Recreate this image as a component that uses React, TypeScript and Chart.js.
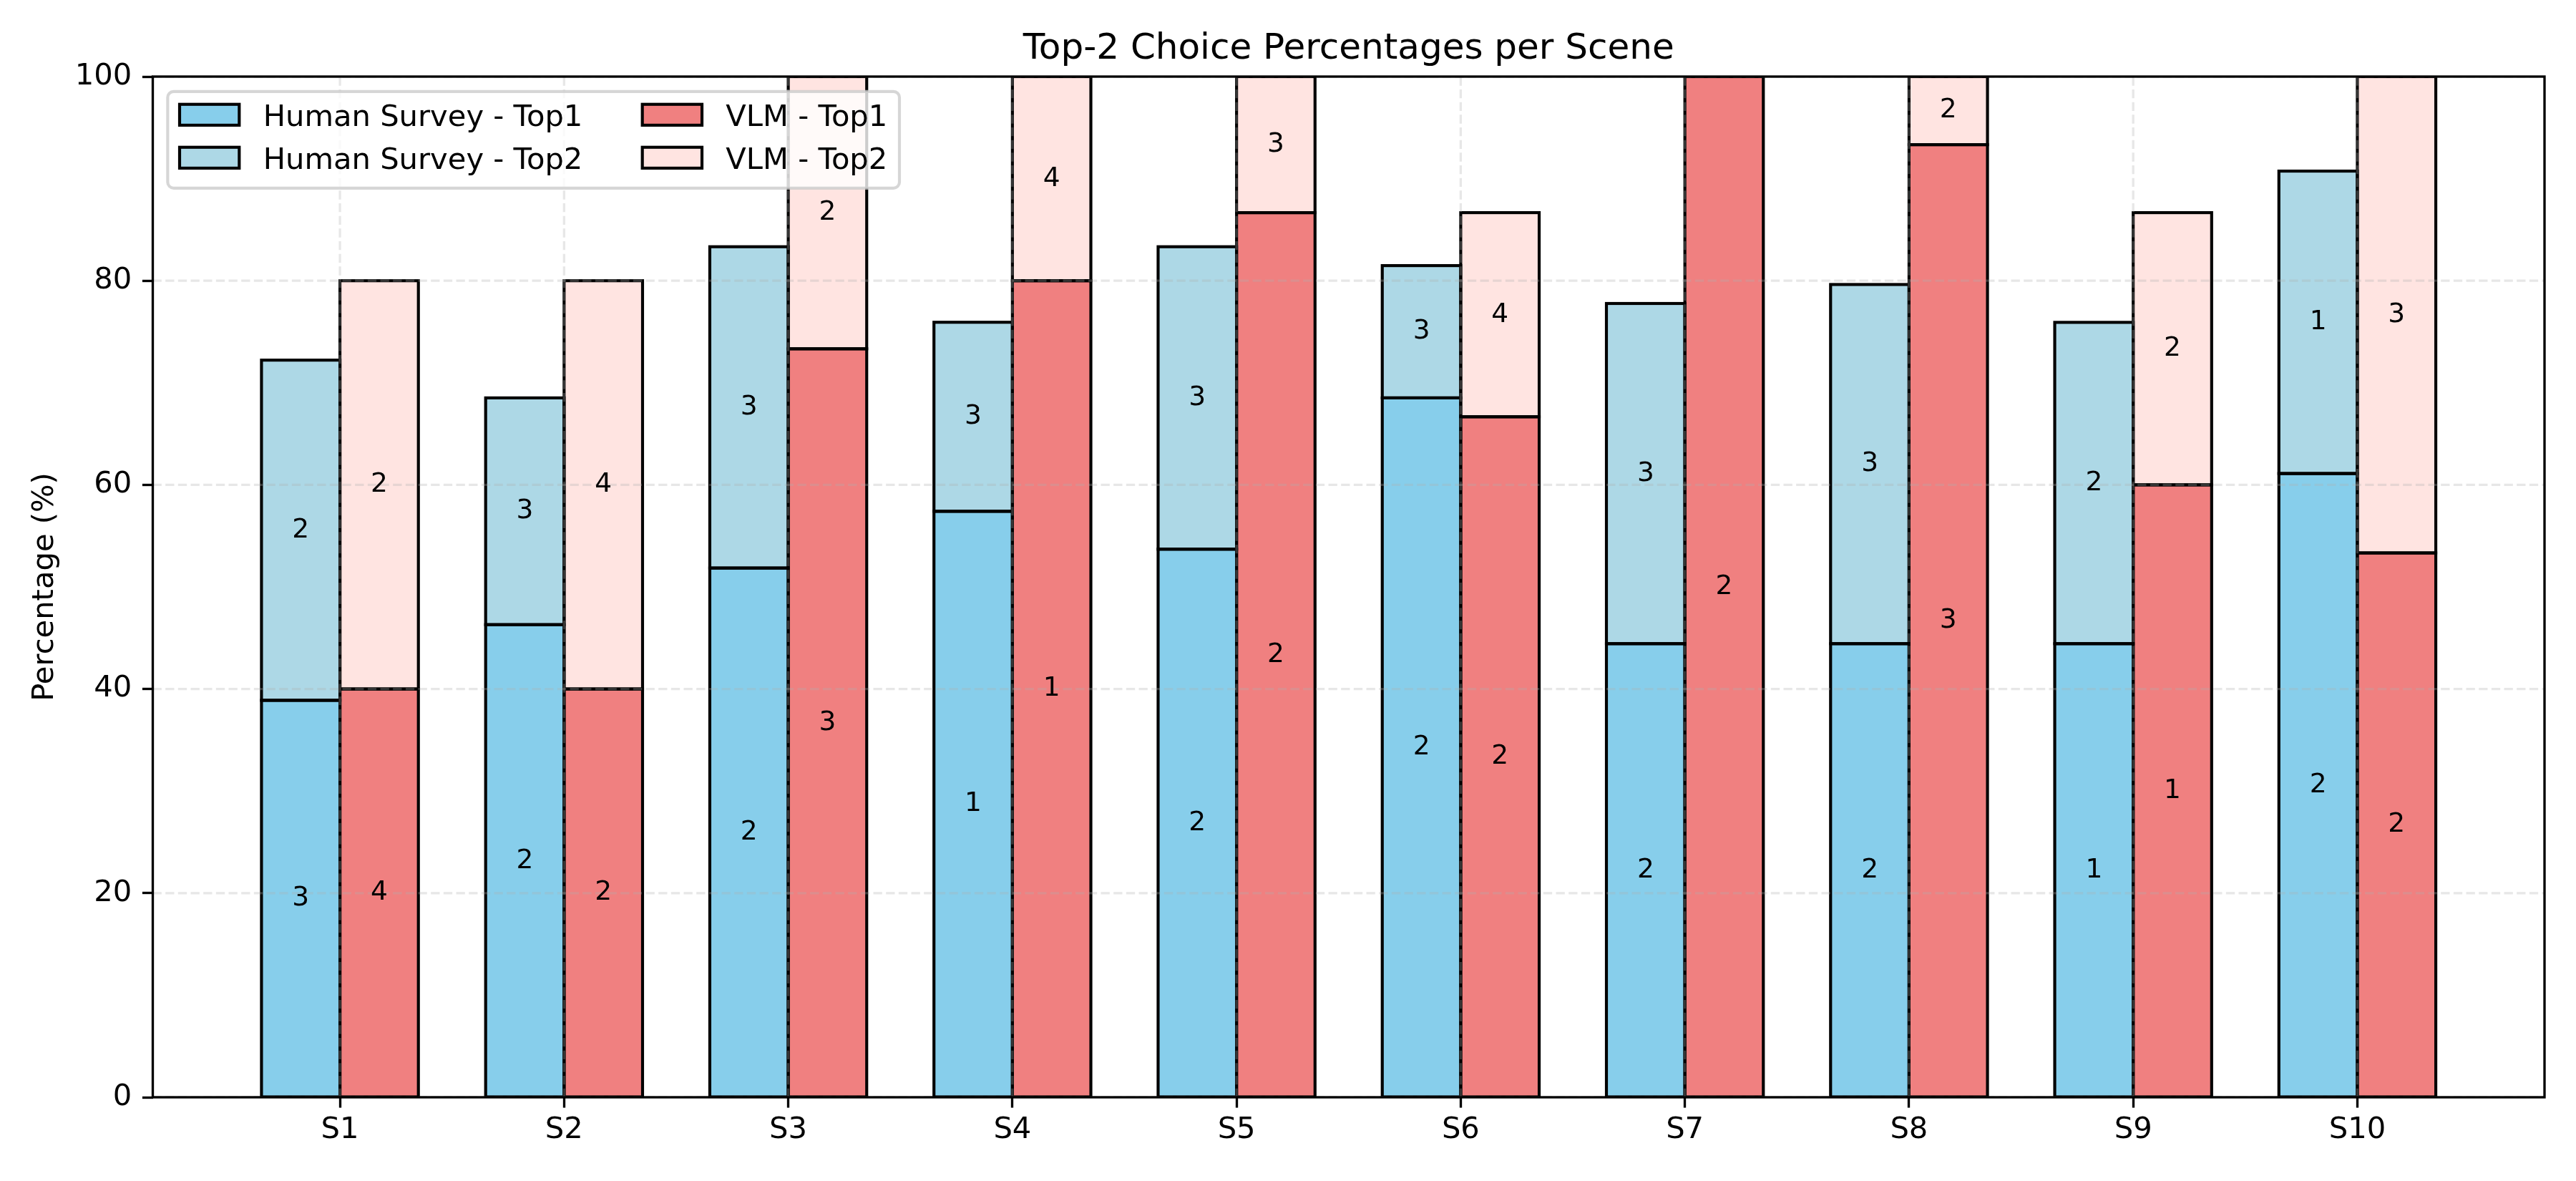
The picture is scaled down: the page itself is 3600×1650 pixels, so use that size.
import React, { useEffect, useRef } from 'react';
import { Chart, registerables } from 'chart.js';

Chart.register(...registerables);

// ---------------- data ----------------
const scenes = ['S1', 'S2', 'S3', 'S4', 'S5', 'S6', 'S7', 'S8', 'S9', 'S10'];
const humanTop1 = [38.89, 46.3, 51.85, 57.41, 53.7, 68.52, 44.44, 44.44, 44.44, 61.11];
const humanTop2 = [33.33, 22.22, 31.48, 18.52, 29.63, 12.96, 33.33, 35.19, 31.48, 29.63];
const vlmTop1 = [40, 40, 73.33, 80, 86.67, 66.67, 100, 93.33, 60, 53.33];
const vlmTop2 = [40, 40, 26.67, 20, 13.33, 20, 0, 6.67, 26.67, 46.67];
const humanTop1Choice = ['3', '2', '2', '1', '2', '2', '2', '2', '1', '2'];
const humanTop2Choice = ['2', '3', '3', '3', '3', '3', '3', '3', '2', '1'];
const vlmTop1Choice = ['4', '2', '3', '1', '2', '2', '2', '3', '1', '2'];
const vlmTop2Choice = ['2', '4', '2', '4', '3', '4', '', '2', '2', '3'];
const yTicks = [0, 20, 40, 60, 80, 100];
const titleText = 'Top-2 Choice Percentages per Scene';
const yLabel = 'Percentage (%)';
const seriesNames = ['Human Survey - Top1', 'Human Survey - Top2', 'VLM - Top1', 'VLM - Top2'];
const seriesColors = ['#87CEEB', '#ADD8E6', '#F08080', '#FFE4E1'];

// ---------------- style ----------------
const W = 3600;
const H = 1650;
const PT = 300 / 72;
const FONT = '"DejaVu Sans", "Liberation Sans", sans-serif';
const FS = 10 * PT; // 41.67
const LABEL_FS = 9 * PT;
const TITLE_FS = 12 * PT;
const EDGE_W = 1 * PT;
const SPINE_W = 0.8 * PT;
const GRID_W = 0.8 * PT;
const GRID_DASH = [3.7 * GRID_W, 1.6 * GRID_W];
const GRID_COLOR = 'rgba(176,176,176,0.3)';
const TICK_LEN = 3.5 * PT;
const PLOT = { left: 213.5, top: 107, right: 3556, bottom: 1533 };

const overlayPlugin = {
  id: 'overlay',
  afterDatasetsDraw(chart: any) {
    const { ctx, chartArea: ca, scales } = chart;
    ctx.save();
    ctx.beginPath();
    ctx.rect(ca.left, ca.top, ca.right - ca.left, ca.bottom - ca.top);
    ctx.clip();
    // bar edges
    ctx.strokeStyle = '#000';
    ctx.lineWidth = EDGE_W;
    chart.data.datasets.forEach((ds: any, di: number) => {
      const meta = chart.getDatasetMeta(di);
      meta.data.forEach((el: any) => {
        const p = el.getProps(['x', 'y', 'base', 'width'], true);
        const top = Math.min(p.y, p.base);
        const h = Math.abs(p.base - p.y);
        ctx.strokeRect(p.x - p.width / 2, top, p.width, h);
      });
    });
    // grid over bars (matplotlib default zorder)
    ctx.strokeStyle = GRID_COLOR;
    ctx.lineWidth = GRID_W;
    ctx.setLineDash(GRID_DASH);
    scales.y.ticks.forEach((t: any) => {
      const py = scales.y.getPixelForValue(t.value);
      ctx.beginPath();
      ctx.moveTo(ca.left, py);
      ctx.lineTo(ca.right, py);
      ctx.stroke();
    });
    scales.x.ticks.forEach((t: any) => {
      const px = scales.x.getPixelForValue(t.value);
      ctx.beginPath();
      ctx.moveTo(px, ca.bottom);
      ctx.lineTo(px, ca.top);
      ctx.stroke();
    });
    ctx.restore();

    // segment labels
    ctx.save();
    ctx.fillStyle = '#000';
    ctx.font = `${LABEL_FS}px ${FONT}`;
    ctx.textAlign = 'center';
    ctx.textBaseline = 'alphabetic';
    chart.data.datasets.forEach((ds: any, di: number) => {
      const meta = chart.getDatasetMeta(di);
      meta.data.forEach((el: any, i: number) => {
        const txt = ds.choiceLabels[i];
        const p = el.getProps(['x', 'y', 'base'], true);
        if (!txt || Math.abs(p.base - p.y) < 0.5) return;
        const cy = (p.y + p.base) / 2;
        // matplotlib va=center: digit ink centre sits ~0.1em above the segment centre
        ctx.fillText(txt, p.x, cy - 0.1 * LABEL_FS + 0.3645 * LABEL_FS);
      });
    });
    ctx.restore();
  },
  afterDraw(chart: any) {
    const { ctx, chartArea: ca } = chart;
    // spines
    ctx.save();
    ctx.strokeStyle = '#000';
    ctx.lineWidth = SPINE_W;
    ctx.setLineDash([]);
    ctx.strokeRect(ca.left, ca.top, ca.right - ca.left, ca.bottom - ca.top);
    // title
    ctx.fillStyle = '#000';
    ctx.font = `${TITLE_FS}px ${FONT}`;
    ctx.textAlign = 'center';
    ctx.textBaseline = 'alphabetic';
    ctx.fillText(titleText, (ca.left + ca.right) / 2, ca.top - 6 * PT);

    // legend (upper left, 2 columns)
    ctx.font = `${FS}px ${FONT}`;
    const x0 = ca.left + 0.5 * FS;
    const y0 = ca.top + 0.5 * FS;
    const pad = 0.4 * FS;
    const hw = 2 * FS;
    const hh = 0.7 * FS;
    const htp = 0.8 * FS;
    const colSp = 2 * FS;
    const w1 = Math.max(ctx.measureText(seriesNames[0]).width, ctx.measureText(seriesNames[1]).width);
    const w2 = Math.max(ctx.measureText(seriesNames[2]).width, ctx.measureText(seriesNames[3]).width);
    const col1x = x0 + pad;
    const col2x = col1x + hw + htp + w1 + colSp;
    const boxW = col2x + hw + htp + w2 + pad - x0;
    const boxH = 135;
    const rows = [y0 + 32.5, y0 + 92.5];
    const r = 0.2 * FS;
    ctx.beginPath();
    ctx.moveTo(x0 + r, y0);
    ctx.arcTo(x0 + boxW, y0, x0 + boxW, y0 + boxH, r);
    ctx.arcTo(x0 + boxW, y0 + boxH, x0, y0 + boxH, r);
    ctx.arcTo(x0, y0 + boxH, x0, y0, r);
    ctx.arcTo(x0, y0, x0 + boxW, y0, r);
    ctx.closePath();
    ctx.fillStyle = 'rgba(255,255,255,0.8)';
    ctx.fill();
    ctx.strokeStyle = 'rgba(204,204,204,0.8)';
    ctx.lineWidth = EDGE_W;
    ctx.stroke();
    seriesNames.forEach((name, k) => {
      const cx = k < 2 ? col1x : col2x;
      const cy = rows[k % 2];
      ctx.fillStyle = seriesColors[k];
      ctx.fillRect(cx, cy - hh / 2, hw, hh);
      ctx.strokeStyle = '#000';
      ctx.lineWidth = EDGE_W;
      ctx.strokeRect(cx, cy - hh / 2, hw, hh);
      ctx.fillStyle = '#000';
      ctx.textAlign = 'left';
      ctx.textBaseline = 'alphabetic';
      ctx.fillText(name, cx + hw + htp, cy + 0.3645 * FS);
    });
    ctx.restore();
  },
};

const toPoints = (arr: number[]) => arr.map((v, i) => ({ x: i, y: v }));

export default function App() {
  const ref = useRef<HTMLCanvasElement | null>(null);
  useEffect(() => {
    if (!ref.current) return;
    Chart.defaults.font.family = FONT;
    Chart.defaults.color = '#000';
    const chart = new Chart(ref.current, {
      type: 'bar',
      data: {
        datasets: [
          { label: seriesNames[0], data: toPoints(humanTop1), backgroundColor: seriesColors[0], stack: 'human', choiceLabels: humanTop1Choice } as any,
          { label: seriesNames[1], data: toPoints(humanTop2), backgroundColor: seriesColors[1], stack: 'human', choiceLabels: humanTop2Choice } as any,
          { label: seriesNames[2], data: toPoints(vlmTop1), backgroundColor: seriesColors[2], stack: 'vlm', choiceLabels: vlmTop1Choice } as any,
          { label: seriesNames[3], data: toPoints(vlmTop2), backgroundColor: seriesColors[3], stack: 'vlm', choiceLabels: vlmTop2Choice } as any,
        ],
      },
      options: {
        animation: false,
        responsive: false,
        devicePixelRatio: 1,
        events: [],
        layout: { padding: { left: 0, top: PLOT.top, right: W - PLOT.right, bottom: 0 } },
        datasets: { bar: { categoryPercentage: 0.7, barPercentage: 1.0, borderWidth: 0, clip: 0 } as any },
        plugins: { legend: { display: false }, title: { display: false }, tooltip: { enabled: false } },
        scales: {
          x: {
            type: 'linear',
            stacked: true,
            min: -0.835,
            max: 9.835,
            offset: false,
            afterBuildTicks: (s: any) => {
              s.ticks = scenes.map((_, i) => ({ value: i }));
            },
            afterFit: (s: any) => {
              s.height = H - PLOT.bottom;
            },
            ticks: {
              autoSkip: false,
              maxRotation: 0,
              minRotation: 0,
              padding: 6.2,
              color: '#000',
              font: { size: FS, family: FONT },
              callback: (v: any) => scenes[Math.round(Number(v))] ?? '',
            },
            grid: {
              offset: false,
              drawOnChartArea: false,
              drawTicks: true,
              tickLength: TICK_LEN,
              tickColor: '#000',
              tickWidth: SPINE_W,
              tickBorderDash: [],
            } as any,
            border: { display: false },
          } as any,
          y: {
            stacked: true,
            min: 0,
            max: 100,
            afterBuildTicks: (s: any) => {
              s.ticks = yTicks.map((v) => ({ value: v }));
            },
            afterFit: (s: any) => {
              s.width = PLOT.left;
            },
            ticks: {
              padding: TICK_LEN,
              color: '#000',
              font: { size: FS, family: FONT },
              callback: (v: any) => String(v),
            },
            grid: {
              offset: false,
              drawOnChartArea: false,
              drawTicks: true,
              tickLength: TICK_LEN,
              tickColor: '#000',
              tickWidth: SPINE_W,
              tickBorderDash: [],
            } as any,
            border: { display: false },
            title: {
              display: true,
              text: yLabel,
              color: '#000',
              font: { size: FS, family: FONT },
              padding: { top: 38.5, bottom: 0 },
            },
          } as any,
        },
      },
      plugins: [overlayPlugin],
    } as any);
    return () => chart.destroy();
  }, []);
  return (
    <div style={{ position: 'absolute', left: 0, top: 0, width: W, height: H, background: '#fff' }}>
      <canvas ref={ref} width={W} height={H} style={{ display: 'block', width: W, height: H }} />
    </div>
  );
}
